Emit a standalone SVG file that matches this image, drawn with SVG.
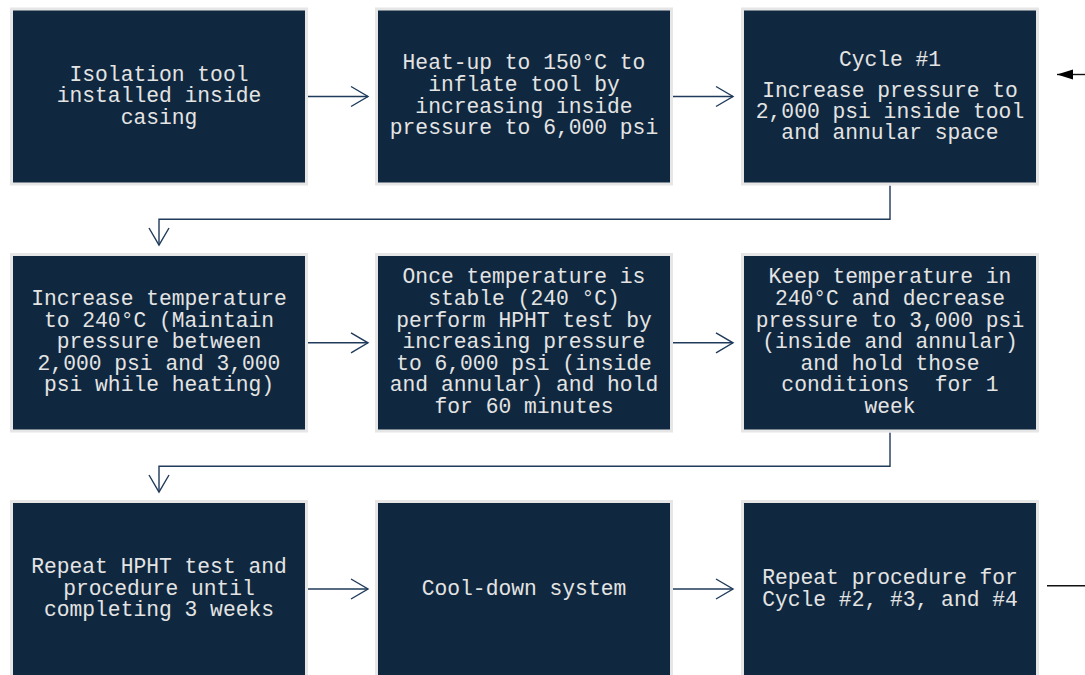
<svg xmlns="http://www.w3.org/2000/svg" width="1085" height="675" viewBox="0 0 1085 675">
<defs>
<style>
.box{fill:#10283f;stroke:#e6e6e6;stroke-width:3}
.t{font-family:"Liberation Mono","Courier New",monospace;font-size:21.3px;fill:#e4e4e4;text-anchor:middle;white-space:pre}
.c{fill:none;stroke:#1f3a5a;stroke-width:1.4}
.k{fill:none;stroke:#111;stroke-width:1.4}
</style>
<marker id="open" markerUnits="userSpaceOnUse" viewBox="-19 -12 21 24" refX="0" refY="0" markerWidth="21" markerHeight="24" orient="auto">
<path d="M-17,-10 L0,0 L-17,10" fill="none" stroke="#1f3a5a" stroke-width="1.4"/>
</marker>
<marker id="solid" markerUnits="userSpaceOnUse" viewBox="-17 -6 18 12" refX="0" refY="0" markerWidth="18" markerHeight="12" orient="auto">
<path d="M-16,-5 L0,0 L-16,5 Z" fill="#000"/>
</marker>
</defs>
<rect width="1085" height="675" fill="#fff"/>

<g id="connectors">
<path class="c" d="M308 96.5 H368" marker-end="url(#open)"/>
<path class="c" d="M673 96.5 H733" marker-end="url(#open)"/>
<path class="c" d="M890 185.5 V219.3 H159 V245" marker-end="url(#open)"/>
<path class="c" d="M308 342.8 H368" marker-end="url(#open)"/>
<path class="c" d="M673 342.8 H733" marker-end="url(#open)"/>
<path class="c" d="M890 432.5 V466.3 H159 V492" marker-end="url(#open)"/>
<path class="c" d="M308 589 H368" marker-end="url(#open)"/>
<path class="c" d="M673 589 H733" marker-end="url(#open)"/>
<path class="k" d="M1047 585.7 H1085"/>
<path class="k" d="M1085 74.5 H1057" marker-end="url(#solid)"/>
</g>

<g id="n1">
<rect class="box" x="11.5" y="9" width="295" height="175"/>
<text class="t" x="159" y="80.7">Isolation tool</text>
<text class="t" x="159" y="102.2">installed inside</text>
<text class="t" x="159" y="123.7">casing</text>
</g>

<g id="n2">
<rect class="box" x="376.5" y="9" width="295" height="175"/>
<text class="t" x="524" y="69.4">Heat-up to 150°C to</text>
<text class="t" x="524" y="91">inflate tool by</text>
<text class="t" x="524" y="112.6">increasing inside</text>
<text class="t" x="524" y="134.2">pressure to 6,000 psi</text>
</g>

<g id="n3">
<rect class="box" x="742.5" y="9" width="295" height="175"/>
<text class="t" x="890" y="66">Cycle #1</text>
<text class="t" x="890" y="96.6">Increase pressure to</text>
<text class="t" x="890" y="118">2,000 psi inside tool</text>
<text class="t" x="890" y="139.4">and annular space</text>
</g>

<g id="n4">
<rect class="box" x="11.5" y="254.5" width="295" height="176.5"/>
<text class="t" x="159" y="305">Increase temperature</text>
<text class="t" x="159" y="326.6">to 240°C (Maintain</text>
<text class="t" x="159" y="348.2">pressure between</text>
<text class="t" x="159" y="369.8">2,000 psi and 3,000</text>
<text class="t" x="159" y="391.4">psi while heating)</text>
</g>

<g id="n5">
<rect class="box" x="376.5" y="254.5" width="295" height="176.5"/>
<text class="t" x="524" y="283.4">Once temperature is</text>
<text class="t" x="524" y="305">stable (240 °C)</text>
<text class="t" x="524" y="326.6">perform HPHT test by</text>
<text class="t" x="524" y="348.2">increasing pressure</text>
<text class="t" x="524" y="369.8">to 6,000 psi (inside</text>
<text class="t" x="524" y="391.4">and annular) and hold</text>
<text class="t" x="524" y="413">for 60 minutes</text>
</g>

<g id="n6">
<rect class="box" x="742.5" y="254.5" width="295" height="176.5"/>
<text class="t" x="890" y="283.4">Keep temperature in</text>
<text class="t" x="890" y="305">240°C and decrease</text>
<text class="t" x="890" y="326.6">pressure to 3,000 psi</text>
<text class="t" x="890" y="348.2">(inside and annular)</text>
<text class="t" x="890" y="369.8">and hold those</text>
<text class="t" x="890" y="391.4">conditions  for 1</text>
<text class="t" x="890" y="413">week</text>
</g>

<g id="n7">
<rect class="box" x="11.5" y="501.5" width="295" height="176"/>
<text class="t" x="159" y="573">Repeat HPHT test and</text>
<text class="t" x="159" y="594.6">procedure until</text>
<text class="t" x="159" y="616.2">completing 3 weeks</text>
</g>

<g id="n8">
<rect class="box" x="376.5" y="501.5" width="295" height="176"/>
<text class="t" x="524" y="594.8">Cool-down system</text>
</g>

<g id="n9">
<rect class="box" x="742.5" y="501.5" width="295" height="176"/>
<text class="t" x="890" y="584">Repeat procedure for</text>
<text class="t" x="890" y="605.6">Cycle #2, #3, and #4</text>
</g>
</svg>
